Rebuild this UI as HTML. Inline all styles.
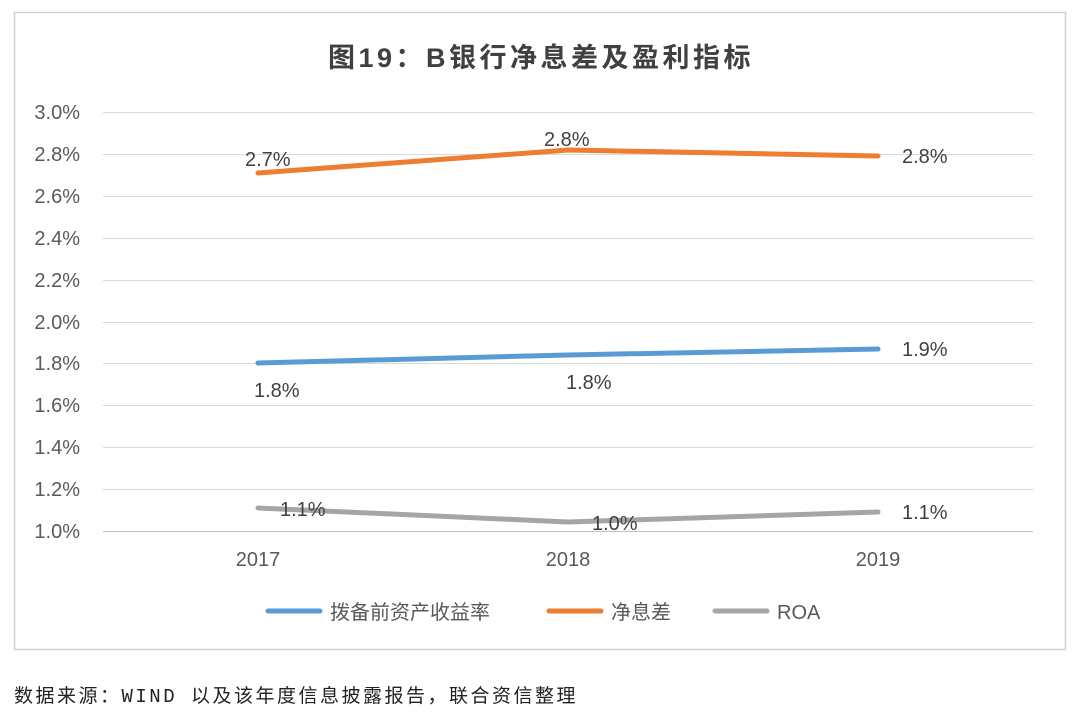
<!DOCTYPE html>
<html><head><meta charset="utf-8"><style>
body{margin:0;background:#fff;width:1080px;height:716px;overflow:hidden;font-family:"Liberation Sans","Noto Sans CJK SC",sans-serif}
</style></head><body>
<svg width="1080" height="716" xmlns="http://www.w3.org/2000/svg" font-family="Liberation Sans, Noto Sans CJK SC, sans-serif">
<rect x="14.5" y="12.5" width="1051" height="637" fill="#fff" stroke="#d0d0d0" stroke-width="1.5"/>
<text x="541" y="67" text-anchor="middle" font-size="27" font-weight="bold" fill="#404040" letter-spacing="3.5">图19：B银行净息差及盈利指标</text>
<g stroke="#d9d9d9" stroke-width="1">
<line x1="103" x2="1033" y1="112.5" y2="112.5"/><line x1="103" x2="1033" y1="154.5" y2="154.5"/>
<line x1="103" x2="1033" y1="196.5" y2="196.5"/><line x1="103" x2="1033" y1="238.5" y2="238.5"/>
<line x1="103" x2="1033" y1="280.5" y2="280.5"/><line x1="103" x2="1033" y1="322.5" y2="322.5"/>
<line x1="103" x2="1033" y1="363.5" y2="363.5"/><line x1="103" x2="1033" y1="405.5" y2="405.5"/>
<line x1="103" x2="1033" y1="447.5" y2="447.5"/><line x1="103" x2="1033" y1="489.5" y2="489.5"/>
</g>
<line x1="103" x2="1033" y1="531.5" y2="531.5" stroke="#bfbfbf"/>
<g font-size="20" fill="#595959" text-anchor="end">
<text x="80" y="119">3.0%</text><text x="80" y="161">2.8%</text><text x="80" y="203">2.6%</text>
<text x="80" y="245">2.4%</text><text x="80" y="287">2.2%</text><text x="80" y="329">2.0%</text>
<text x="80" y="370">1.8%</text><text x="80" y="412">1.6%</text><text x="80" y="454">1.4%</text>
<text x="80" y="496">1.2%</text><text x="80" y="538">1.0%</text>
</g>
<g font-size="20" fill="#595959" text-anchor="middle">
<text x="258" y="566">2017</text><text x="568" y="566">2018</text><text x="878" y="566">2019</text>
</g>
<g fill="none" stroke-width="5" stroke-linecap="round">
<polyline points="258,173 568,150 878,156" stroke="#ed7d31"/>
<polyline points="258,363 568,355 878,349" stroke="#5b9bd5"/>
<polyline points="258,508 568,522 878,512" stroke="#a5a5a5"/>
</g>
<g font-size="20" fill="#404040">
<text x="245" y="166">2.7%</text><text x="544" y="146">2.8%</text><text x="902" y="163">2.8%</text>
<text x="254" y="397">1.8%</text><text x="566" y="389">1.8%</text><text x="902" y="356">1.9%</text>
<text x="280" y="516">1.1%</text><text x="592" y="530">1.0%</text><text x="902" y="519">1.1%</text>
</g>
<line x1="268" x2="320" y1="611" y2="611" stroke="#5b9bd5" stroke-width="5" stroke-linecap="round"/>
<text x="330" y="619" font-size="20" fill="#595959">拨备前资产收益率</text>
<line x1="549" x2="601" y1="611" y2="611" stroke="#ed7d31" stroke-width="5" stroke-linecap="round"/>
<text x="611" y="619" font-size="20" fill="#595959">净息差</text>
<line x1="715" x2="767" y1="611" y2="611" stroke="#a5a5a5" stroke-width="5" stroke-linecap="round"/>
<text x="777" y="619" font-size="20" fill="#595959">ROA</text>
<text x="14" y="702" font-size="19" fill="#222" letter-spacing="2.5" font-family="Liberation Mono, Noto Sans CJK SC, sans-serif">数据来源：WIND 以及该年度信息披露报告，联合资信整理</text>
</svg>
</body></html>
